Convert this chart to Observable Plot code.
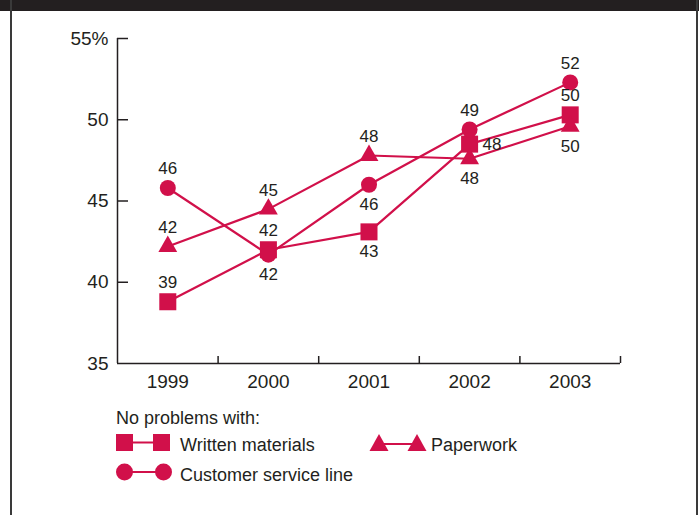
<!DOCTYPE html>
<html>
<head>
<meta charset="utf-8">
<script src="https://cdn.jsdelivr.net/npm/d3@7"></script>
<script src="https://cdn.jsdelivr.net/npm/@observablehq/plot@0.6"></script>
<style>
  html, body { margin: 0; padding: 0; background: #fff; }
  #frame { position: relative; width: 699px; height: 515px; overflow: hidden; font-family: "Liberation Sans", Arial, sans-serif; color: #231f20; }
  #topband { position: absolute; left: 0; top: 0; width: 699px; height: 11px; background: #231f20; }
  #lborder { position: absolute; left: 10px; top: 0; width: 1.5px; height: 515px; background: #3a3a3a; }
  #rborder { position: absolute; left: 696px; top: 0; width: 1.5px; height: 515px; background: #3a3a3a; }
  #chart { position: absolute; left: 0; top: 0; }
  .lg { position: absolute; font-size: 18px; line-height: 20px; white-space: nowrap; }
  .sw { position: absolute; }
</style>
</head>
<body>
<div id="frame">
  <div id="chart"></div>
  <div id="topband"></div>
  <div id="lborder"></div>
  <div id="rborder"></div>
  <div class="lg" id="lgTitle" style="left:116px; top:408px;"></div>
  <svg class="sw" style="left:115px; top:432px;" width="58" height="20"><line x1="8" y1="10.5" x2="46" y2="10.5" stroke="#d1104a" stroke-width="2"/><rect x="1" y="2" width="17" height="17" fill="#d1104a"/><rect x="38" y="2" width="17" height="17" fill="#d1104a"/></svg>
  <div class="lg" id="lgWritten" style="left:180px; top:435px;"></div>
  <svg class="sw" style="left:369px; top:432px;" width="60" height="20"><line x1="9" y1="12" x2="48" y2="12" stroke="#d1104a" stroke-width="2"/><path d="M10,2 L19.5,19 L0.5,19 Z" fill="#d1104a"/><path d="M48,2 L57.5,19 L38.5,19 Z" fill="#d1104a"/></svg>
  <div class="lg" id="lgPaper" style="left:431px; top:435px;"></div>
  <svg class="sw" style="left:115px; top:462px;" width="58" height="20"><line x1="9" y1="10" x2="48" y2="10" stroke="#d1104a" stroke-width="2"/><circle cx="9.5" cy="10" r="8.5" fill="#d1104a"/><circle cx="48.5" cy="10" r="8.5" fill="#d1104a"/></svg>
  <div class="lg" id="lgCustomer" style="left:180px; top:464.5px;"></div>
</div>
<script>
// ---- data ----
const years = [1999, 2000, 2001, 2002, 2003];
const written = [38.8, 42.0, 43.1, 48.5, 50.3];
const paperwork = [42.2, 44.5, 47.8, 47.6, 49.6];
const customer = [45.8, 41.7, 46.0, 49.4, 52.3];
const writtenLabels = [39, 42, 43, 48, 50];
const paperworkLabels = [42, 45, 48, 48, 50];
const customerLabels = [46, 42, 46, 49, 52];
const writtenLabelPlace = ["above", "above", "below", "right", "above"];
const paperworkLabelPlace = ["above", "above", "above", "below", "below"];
const customerLabelPlace = ["above", "below", "below", "above", "above"];
const yTicks = [35, 40, 45, 50, 55];
const yTickLabels = ["35", "40", "45", "50", "55%"];
const yearLabels = ["1999", "2000", "2001", "2002", "2003"];
const legendTitle = "No problems with:";
const seriesNames = ["Written materials", "Paperwork", "Customer service line"];

const RED = "#d1104a";
const INK = "#231f20";

function rows(values, labels, place, series) {
  return years.map((yr, i) => ({year: yr, value: values[i], label: labels[i], place: place[i], series}));
}
const wRows = rows(written, writtenLabels, writtenLabelPlace, seriesNames[0]);
const pRows = rows(paperwork, paperworkLabels, paperworkLabelPlace, seriesNames[1]);
const cRows = rows(customer, customerLabels, customerLabelPlace, seriesNames[2]);
const all = [...wRows, ...pRows, ...cRows];

const boundaries = years.map(y => y + 0.5);
const xDomain = [years[0] - 0.5, years[years.length - 1] + 0.5];

const labelStyle = {fill: INK, fontSize: 17};

const plot = Plot.plot({
  width: 699,
  height: 400,
  marginLeft: 117,
  marginRight: 79,
  marginTop: 38,
  marginBottom: 37,
  style: {fontFamily: '"Liberation Sans", Arial, sans-serif', color: INK, background: "transparent"},
  x: {domain: xDomain, axis: null},
  y: {domain: [yTicks[0], yTicks[yTicks.length - 1]], axis: null},
  marks: [
    Plot.ruleX([xDomain[0]], {stroke: INK, strokeWidth: 1.5}),
    Plot.ruleY([yTicks[0]], {stroke: INK, strokeWidth: 1.5}),
    Plot.axisY({ticks: yTicks.slice(1), tickSize: -11, tickPadding: 20, strokeWidth: 1.5, stroke: INK, text: null, label: null}),
    Plot.axisY({ticks: yTicks, tickSize: 0, tickPadding: 9, fontSize: 19, fill: INK, label: null,
      tickFormat: d => yTickLabels[yTicks.indexOf(d)]}),
    Plot.axisX({ticks: boundaries, tickSize: -7, strokeWidth: 1.5, stroke: INK, text: null, label: null}),
    Plot.axisX({ticks: years, tickSize: 0, tickPadding: 11, fontSize: 19, fill: INK, label: null,
      tickFormat: d => yearLabels[years.indexOf(d)]}),
    Plot.line(all, {x: "year", y: "value", z: "series", stroke: RED, strokeWidth: 2.2}),
    Plot.dot(wRows, {x: "year", y: "value", symbol: "square", r: 9.6, fill: RED}),
    Plot.dot(pRows, {x: "year", y: "value", symbol: "triangle", r: 7, fill: RED}),
    Plot.dot(cRows, {x: "year", y: "value", symbol: "circle", r: 8, fill: RED}),
    Plot.text(all.filter(d => d.place === "above"), {x: "year", y: "value", text: "label", dy: -19, ...labelStyle}),
    Plot.text(all.filter(d => d.place === "below"), {x: "year", y: "value", text: "label", dy: 20, ...labelStyle}),
    Plot.text(all.filter(d => d.place === "right"), {x: "year", y: "value", text: "label", dx: 13, textAnchor: "start", ...labelStyle})
  ]
});
document.getElementById("chart").appendChild(plot);
document.getElementById("lgTitle").textContent = legendTitle;
document.getElementById("lgWritten").textContent = seriesNames[0];
document.getElementById("lgPaper").textContent = seriesNames[1];
document.getElementById("lgCustomer").textContent = seriesNames[2];
</script>
</body>
</html>
